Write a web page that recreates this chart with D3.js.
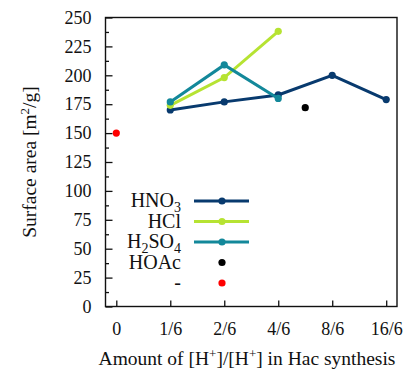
<!DOCTYPE html>
<html>
<head>
<meta charset="utf-8">
<script src="https://cdnjs.cloudflare.com/ajax/libs/d3/7.8.5/d3.min.js"></script>
<style>
  body { margin: 0; background: #fff; }
  svg text { font-family: "Liberation Serif", "Times New Roman", Times, "DejaVu Serif", serif !important; fill: #111; }
</style>
</head>
<body>
<script>
// categories on the x axis
var categories = ["0", "1/6", "2/6", "4/6", "8/6", "16/6"];
var yTicks = [0, 25, 50, 75, 100, 125, 150, 175, 200, 225, 250];

// series values, x given as category index
var hno3 = [[1, 170], [2, 177], [3, 183], [4, 200], [5, 179]];
var hcl = [[1, 174], [2, 198], [3, 238]];
var h2so4 = [[1, 177], [2, 209], [3, 180]];
var hoac = [[3.5, 172]];
var blank = [[0, 150]];

var svg_width = 409;
var svg_height = 371;
var margin = { left: 105.5, right: 12, top: 17.5, bottom: 64.5 };
var serif = '"Liberation Serif", "Times New Roman", Times, serif';

const svg = d3.select('body')
    .append('svg')
    .attr("width", svg_width)
    .attr("height", svg_height);

const x = d3.scaleLinear().domain([-0.2, 5.2])
    .range([margin.left, svg_width - margin.right]);
const y = d3.scaleLinear().domain([0, 250])
    .range([svg_height - margin.bottom, margin.top]);

// axes with inward ticks
const yAxis = d3.axisLeft(y).tickValues(yTicks).tickSize(-7).tickPadding(14);
const yMinor = d3.axisLeft(y).tickValues(d3.range(12.5, 250, 25)).tickSize(-3.5).tickFormat("");
const xAxis = d3.axisBottom(x).tickValues(d3.range(categories.length))
    .tickSize(-6).tickPadding(16).tickFormat(i => categories[i]);

const gy = svg.append('g').attr('transform', `translate(${margin.left},0)`).call(yAxis);
svg.append('g').attr('transform', `translate(${margin.left},0)`).call(yMinor);
const gx = svg.append('g').attr('transform', `translate(0,${svg_height - margin.bottom})`).call(xAxis);

svg.selectAll('.domain').remove();
svg.selectAll('g').attr('font-family', serif);
svg.selectAll('.tick line').attr('stroke', '#111').attr('stroke-width', 1.3);
gy.selectAll('.tick text').attr('font-size', 18).attr('fill', '#111');
gx.selectAll('.tick text').attr('font-size', 18).attr('fill', '#111');

// frame
svg.append('rect')
    .attr('x', margin.left).attr('y', margin.top)
    .attr('width', svg_width - margin.right - margin.left)
    .attr('height', svg_height - margin.bottom - margin.top)
    .attr('fill', 'none').attr('stroke', '#111').attr('stroke-width', 1.4);

// series
const series = [
    { data: hno3, color: "#083a6e", line: true },
    { data: hcl, color: "#b6e332", line: true },
    { data: h2so4, color: "#13889a", line: true },
    { data: hoac, color: "#000000", line: false },
    { data: blank, color: "#ff0000", line: false }
];

const line = d3.line().x(d => x(d[0])).y(d => y(d[1]));

series.forEach(s => {
    if (s.line) {
        svg.append('path').attr('d', line(s.data))
            .attr('fill', 'none').attr('stroke', s.color).attr('stroke-width', 3);
    }
    svg.append('g').selectAll('circle').data(s.data).enter().append('circle')
        .attr('cx', d => x(d[0])).attr('cy', d => y(d[1]))
        .attr('r', 3.6).attr('fill', s.color);
});

// legend
const legendLabels = [
    [["HNO", 0], ["3", 1]],
    [["HCl", 0]],
    [["H", 0], ["2", 1], ["SO", 0], ["4", 1]],
    [["HOAc", 0]],
    [["-", 0]]
];
const legend = svg.append('g');
legendLabels.forEach((parts, i) => {
    const ly = 201 + i * 20.5;
    const t = legend.append('text').attr('x', 181).attr('y', ly + 6)
        .attr('text-anchor', 'end').attr('font-size', 20).attr('font-family', serif);
    parts.forEach((p, j) => {
        const ts = t.append('tspan').text(p[0]);
        if (p[1] === 1) ts.attr('font-size', 14).attr('dy', 5);
        else if (j > 0) ts.attr('dy', -5);
    });
    const s = series[i];
    if (s.line) {
        legend.append('line').attr('x1', 194).attr('x2', 249).attr('y1', ly).attr('y2', ly)
            .attr('stroke', s.color).attr('stroke-width', 3);
    }
    legend.append('circle').attr('cx', 222).attr('cy', ly).attr('r', 3.6).attr('fill', s.color);
});

// axis titles
const xt = svg.append('text').attr('x', 247).attr('y', 365)
    .attr('text-anchor', 'middle').attr('font-size', 19.5).attr('font-family', serif);
xt.append('tspan').text('Amount of [H');
xt.append('tspan').text('+').attr('font-size', 13).attr('dy', -7);
xt.append('tspan').text(']/[H').attr('dy', 7);
xt.append('tspan').text('+').attr('font-size', 13).attr('dy', -7);
xt.append('tspan').text('] in Hac synthesis').attr('dy', 7);

const yt = svg.append('text')
    .attr('transform', `translate(36,${(margin.top + svg_height - margin.bottom) / 2}) rotate(-90)`)
    .attr('text-anchor', 'middle').attr('font-size', 19.5).attr('font-family', serif);
yt.append('tspan').text('Surface area [m');
yt.append('tspan').text('2').attr('font-size', 13).attr('dy', -7);
yt.append('tspan').text('/g]').attr('dy', 7);
</script>
</body>
</html>
